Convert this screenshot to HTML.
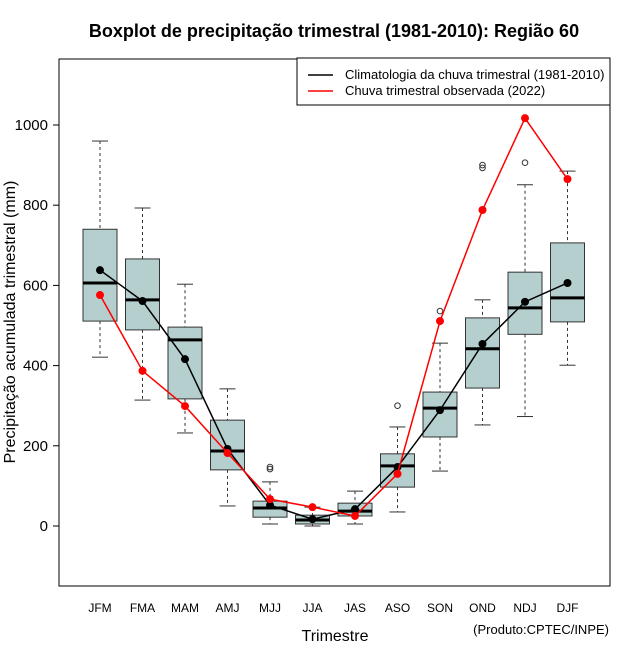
<!DOCTYPE html>
<html><head><meta charset="utf-8"><style>
body{margin:0;background:#fff}
svg{display:block;font-family:"Liberation Sans",sans-serif}
</style></head><body>
<svg id="chart" width="640" height="660" viewBox="0 0 640 660">
<text x="334" y="37" text-anchor="middle" font-size="18" font-weight="bold">Boxplot de precipitação trimestral (1981-2010): Região 60</text>
<rect x="59" y="59" width="551" height="527" fill="none" stroke="#000"/>
<g id="yaxis"></g>
<g id="xaxis"></g>
<g id="boxes"></g>
<g id="lines"></g>
<text x="15" y="322" transform="rotate(-90 15 322)" text-anchor="middle" font-size="16">Precipitação acumulada trimestral (mm)</text>
<text x="335" y="641" text-anchor="middle" font-size="16">Trimestre</text>
<text x="609" y="634" text-anchor="end" font-size="13">(Produto:CPTEC/INPE)</text>
<g>
<rect x="297" y="58" width="313" height="47" fill="#fff" stroke="#000"/>
<line x1="308" y1="75" x2="333" y2="75" stroke="#000" stroke-width="1.5"/>
<text x="345" y="79" font-size="13">Climatologia da chuva trimestral (1981-2010)</text>
<line x1="308" y1="91" x2="333" y2="91" stroke="#f00" stroke-width="1.5"/>
<text x="345" y="95" font-size="13">Chuva trimestral observada (2022)</text>
</g>
</svg>
<script>
const categories=["JFM","FMA","MAM","AMJ","MJJ","JJA","JAS","ASO","SON","OND","NDJ","DJF"];
const whiskerLow=[421,314,232,50,5,0,5,35,137,252,273,401];
const q1=[511,489,317,140,22,5,25,97,222,344,478,509];
const median=[606,564,464,187,45,15,37,150,294,442,544,569];
const q3=[740,666,496,264,62,27,57,180,334,519,633,706];
const whiskerHigh=[960,793,603,342,110,47,87,247,456,564,851,885];
const outliers=[[],[],[],[],[142,147],[],[],[300],[536],[893,900],[906],[]];
const climatology=[638,561,416,192,52,17,42,147,289,454,559,606];
const observed=[576,387,299,182,67,47,25,130,511,788,1017,865];
const yTicks=[0,200,400,600,800,1000];

const NS="http://www.w3.org/2000/svg";
const y=v=>526-v*0.401;
const x=i=>100+i*42.5;
function mk(tag,attrs,parent){const e=document.createElementNS(NS,tag);for(const k in attrs)e.setAttribute(k,attrs[k]);parent.appendChild(e);return e;}
const ya=document.getElementById('yaxis'),xa=document.getElementById('xaxis'),bx=document.getElementById('boxes'),ln=document.getElementById('lines');
yTicks.forEach(t=>{
  const l=mk('line',{x1:53,x2:59,y1:y(t),y2:y(t),stroke:'#000'},ya);
  
  
  const tx=mk('text',{x:48,y:y(t)+5,'text-anchor':'end','font-size':15},ya);
  tx.textContent=t;
  
  
});
categories.forEach((c,i)=>{
  const tx=mk('text',{x:x(i),y:612,'text-anchor':'middle','font-size':12},xa);
  tx.textContent=c;
  
  
  const g=mk('g',{},bx);
  
  
  const cx=x(i),hw=17;
  mk('line',{x1:cx,x2:cx,y1:y(whiskerHigh[i]),y2:y(q3[i]),stroke:'#333','stroke-dasharray':'3,3'},g);
  mk('line',{x1:cx,x2:cx,y1:y(q1[i]),y2:y(whiskerLow[i]),stroke:'#333','stroke-dasharray':'3,3'},g);
  mk('line',{x1:cx-8,x2:cx+8,y1:y(whiskerHigh[i]),y2:y(whiskerHigh[i]),stroke:'#333'},g);
  mk('line',{x1:cx-8,x2:cx+8,y1:y(whiskerLow[i]),y2:y(whiskerLow[i]),stroke:'#333'},g);
  mk('rect',{x:cx-hw,y:y(q3[i]),width:2*hw,height:y(q1[i])-y(q3[i]),fill:'#b5cfcf',stroke:'#333'},g);
  mk('line',{x1:cx-hw,x2:cx+hw,y1:y(median[i]),y2:y(median[i]),stroke:'#000','stroke-width':3},g);
  outliers[i].forEach(o=>mk('circle',{cx:cx,cy:y(o),r:2.8,fill:'none',stroke:'#333'},g));
});
function series(vals,color,name){
  const pts=vals.map((v,i)=>x(i)+','+y(v)).join(' ');
  const p=mk('polyline',{points:pts,fill:'none',stroke:color,'stroke-width':1.5},ln);
  
  
  vals.forEach((v,i)=>{
    const c=mk('circle',{cx:x(i),cy:y(v),r:4,fill:color},ln);
    
    
  });
}
series(climatology,'#000','climatology');
series(observed,'#f00','observed');
</script>
</body></html>
